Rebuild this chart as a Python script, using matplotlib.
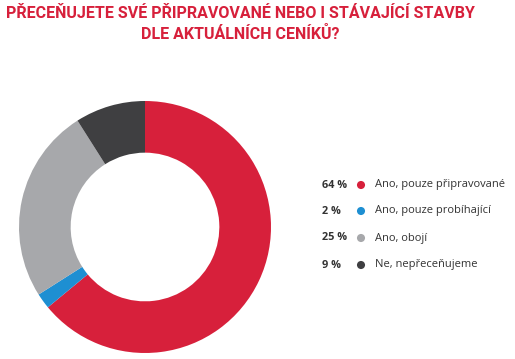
import matplotlib
matplotlib.use("Agg")
import matplotlib.pyplot as plt

W, H = 515, 359
title_lines = ["PŘECEŇUJETE SVÉ PŘIPRAVOVANÉ NEBO I STÁVAJÍCÍ STAVBY", "DLE AKTUÁLNÍCH CENÍKŮ?"]
labels = ["Ano, pouze připravované", "Ano, pouze probíhající", "Ano, obojí", "Ne, nepřeceňujeme"]
values = [64, 2, 25, 9]
pct_labels = ["64 %", "2 %", "25 %", "9 %"]
colors = ["#D7203B", "#1E8FD2", "#A7A8AB", "#3F3F41"]

title_font = "Roboto"
body_font = "Open Sans"

fig = plt.figure(figsize=(W / 100, H / 100), dpi=100)
fig.patch.set_facecolor("white")

def fx(x):
    return x / W

def fy(y):
    return 1 - y / H

# donut
cx, cy, r = 145, 227, 126
ax = fig.add_axes([fx(cx - r), fy(cy + r), 2 * r / W, 2 * r / H])
ax.pie(values, colors=colors, startangle=90, counterclock=False,
       radius=1, wedgeprops=dict(width=0.41, edgecolor="none"))
ax.set_xlim(-1, 1)
ax.set_ylim(-1, 1)
ax.set_aspect("equal")
ax.axis("off")

# title
for y, line in zip([13, 34], title_lines):
    fig.text(fx(240), fy(y), line, ha="center", va="center",
             fontsize=11.5, fontweight="bold", color="#D7203B", family=title_font)

# legend
ys = [185, 211, 238, 265]
for y, p, lab in zip(ys, pct_labels, labels):
    fig.text(fx(322), fy(y), p, ha="left", va="center", fontsize=7.8,
             fontweight="bold", color="#333333", family=body_font)
    fig.text(fx(375), fy(y), lab, ha="left", va="center", fontsize=8,
             color="#333333", family=body_font)

lax = fig.add_axes([0, 0, 1, 1], facecolor="none")
lax.set_xlim(0, W)
lax.set_ylim(H, 0)
lax.axis("off")
lax.scatter([361] * 4, ys, s=34, c=colors, edgecolors="none")

fig.savefig("out.png", dpi=100)
